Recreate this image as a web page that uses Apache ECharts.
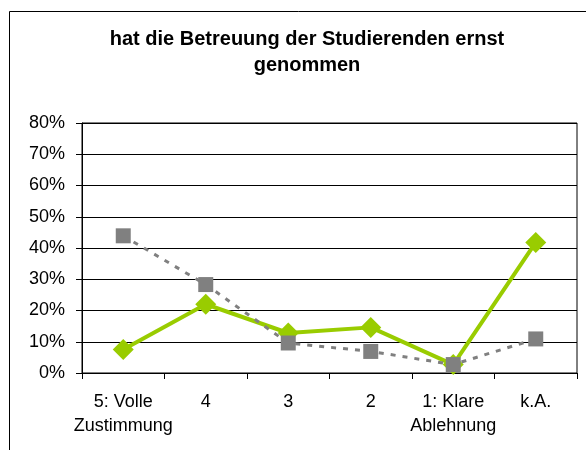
<!DOCTYPE html>
<html>
<head>
<meta charset="utf-8">
<script src="https://cdn.jsdelivr.net/npm/echarts@6/dist/echarts.min.js"></script>
<style>
html,body{margin:0;padding:0;background:#fff;}
#chart{width:586px;height:450px;}
</style>
</head>
<body>
<div id="chart"></div>
<script>
const titleText = 'hat die Betreuung der Studierenden ernst\ngenommen';
const categories = ['5: Volle\nZustimmung', '4', '3', '2', '1: Klare\nAblehnung', 'k.A.'];
const greenValues = [7.5, 22, 12.8, 14.6, 2.7, 41.8];
const greyValues = [43.9, 28.3, 9.6, 6.9, 2.7, 10.9];
const yMin = 0, yMax = 80, yStep = 10;

const FONT = '"Liberation Sans", Arial, sans-serif';
const chart = echarts.init(document.getElementById('chart'), null, {renderer: 'canvas'});
chart.setOption({
  animation: false,
  backgroundColor: '#fff',
  title: {
    text: titleText,
    left: 302,
    top: 21,
    textAlign: 'center',
    textStyle: {fontFamily: FONT, fontSize: 20, fontWeight: 'bold', color: '#000', lineHeight: 26}
  },
  graphic: [{
    type: 'rect',
    shape: {x: 9.5, y: 11.5, width: 700, height: 600},
    style: {fill: null, stroke: '#000', lineWidth: 1},
    silent: true
  }],
  grid: {left: 82, right: 9, top: 123, bottom: 77, show: true, borderColor: '#000', borderWidth: 1, backgroundColor: 'transparent'},
  xAxis: {
    type: 'category',
    data: categories,
    boundaryGap: true,
    axisLine: {show: true, lineStyle: {color: '#000', width: 1}},
    axisTick: {show: true, length: 6, lineStyle: {color: '#000'}},
    axisLabel: {fontFamily: FONT, fontSize: 18, color: '#000', lineHeight: 24, margin: 17, interval: 0}
  },
  yAxis: {
    type: 'value',
    min: yMin, max: yMax, interval: yStep,
    axisLine: {show: true, lineStyle: {color: '#000', width: 1}},
    axisTick: {show: true, length: 6, lineStyle: {color: '#000'}},
    splitLine: {show: true, lineStyle: {color: '#000', width: 1}},
    axisLabel: {fontFamily: FONT, fontSize: 18, color: '#000', margin: 17, formatter: '{value}%'}
  },
  series: [
    {
      type: 'line',
      data: greenValues,
      symbol: 'diamond',
      symbolSize: 21,
      itemStyle: {color: '#99CC00'},
      lineStyle: {color: '#99CC00', width: 4},
      z: 2
    },
    {
      type: 'line',
      data: greyValues,
      symbol: 'rect',
      symbolSize: 15,
      itemStyle: {color: '#808080'},
      lineStyle: {color: '#808080', width: 3, type: [5, 7]},
      z: 3
    }
  ]
});
</script>
</body>
</html>
